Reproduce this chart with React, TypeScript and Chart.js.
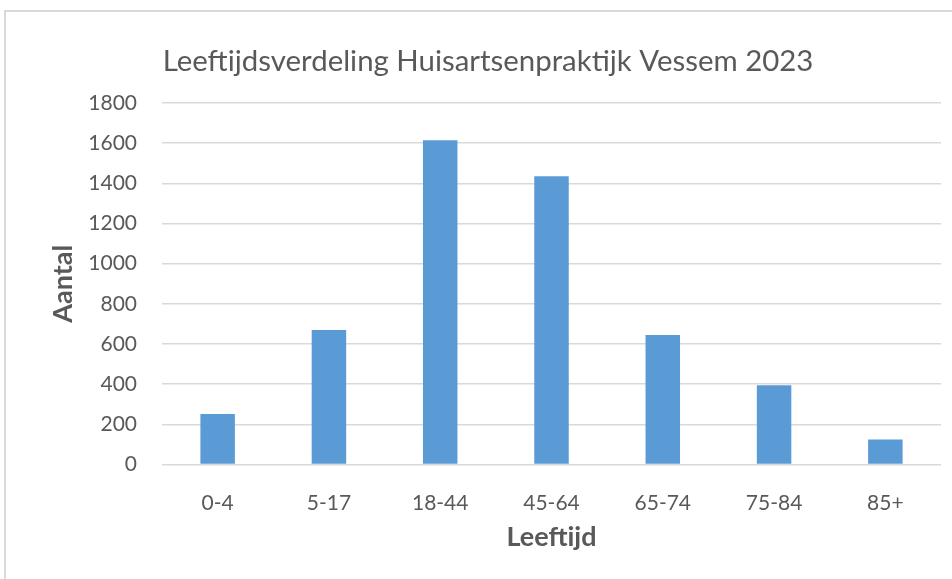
import React, { useEffect, useRef } from "react";
import { Chart, registerables } from "chart.js";

Chart.register(...registerables);

const chartTitle = "Leeftijdsverdeling Huisartsenpraktijk Vessem 2023";
const xAxisTitle = "Leeftijd";
const yAxisTitle = "Aantal";
const categories = ["0-4", "5-17", "18-44", "45-64", "65-74", "75-84", "85+"];
const counts = [251, 670, 1614, 1435, 645, 394, 125];
const yMin = 0;
const yMax = 1800;
const yStep = 200;

const FONT = "Lato, 'Open Sans', sans-serif";
const TEXT = "#595959";
const GRID = "#d9d9d9";
const BAR = "#5B9BD5";

export default function App() {
  const canvasRef = useRef<HTMLCanvasElement | null>(null);

  useEffect(() => {
    if (!canvasRef.current) return;
    const chart = new Chart(canvasRef.current, {
      type: "bar",
      data: {
        labels: categories,
        datasets: [
          {
            label: yAxisTitle,
            data: counts,
            backgroundColor: BAR,
            borderWidth: 0,
            barPercentage: 0.31,
            categoryPercentage: 1,
          },
        ],
      },
      options: {
        animation: false,
        responsive: true,
        maintainAspectRatio: false,
        layout: { padding: { left: 35, right: 11, top: 0, bottom: 0 } },
        plugins: {
          legend: { display: false },
          tooltip: { enabled: false },
          title: {
            display: true,
            text: chartTitle,
            color: TEXT,
            font: { family: FONT, size: 29.4, weight: "normal" },
            padding: { top: 43.4, bottom: 24.3 },
          },
        },
        scales: {
          x: {
            grid: { display: false },
            border: { display: false },
            ticks: {
              color: TEXT,
              font: { family: FONT, size: 21 },
              padding: 18.5,
              maxRotation: 0,
              autoSkip: false,
            },
            title: {
              display: true,
              text: xAxisTitle,
              color: TEXT,
              font: { family: FONT, size: 27, weight: "bold" },
              padding: { top: 0, bottom: 25.8 },
            },
            afterFit: (s: any) => {
              s.height = 114.5;
            },
          },
          y: {
            min: yMin,
            max: yMax,
            grid: { color: GRID, lineWidth: 1.5, drawTicks: false },
            border: { display: false },
            ticks: {
              stepSize: yStep,
              color: TEXT,
              font: { family: FONT, size: 21 },
              padding: 25,
              callback: (v: any) => String(v),
            },
            title: {
              display: true,
              text: yAxisTitle,
              color: TEXT,
              font: { family: FONT, size: 27, weight: "bold" },
              padding: { top: 11.8, bottom: 0 },
            },
            afterFit: (s: any) => {
              s.width = 127;
            },
          },
        },
      },
    });
    return () => chart.destroy();
  }, []);

  return (
    <div
      style={{
        position: "absolute",
        left: 0,
        top: 0,
        width: 952,
        height: 579,
        overflow: "hidden",
        background: "#ffffff",
      }}
    >
      <div
        style={{
          position: "absolute",
          left: 4,
          top: 10,
          width: 1000,
          height: 1000,
          border: `2px solid ${GRID}`,
          boxSizing: "border-box",
        }}
      />
      <div style={{ position: "absolute", left: 0, top: 0, width: 952, height: 579 }}>
        <canvas ref={canvasRef} />
      </div>
    </div>
  );
}
